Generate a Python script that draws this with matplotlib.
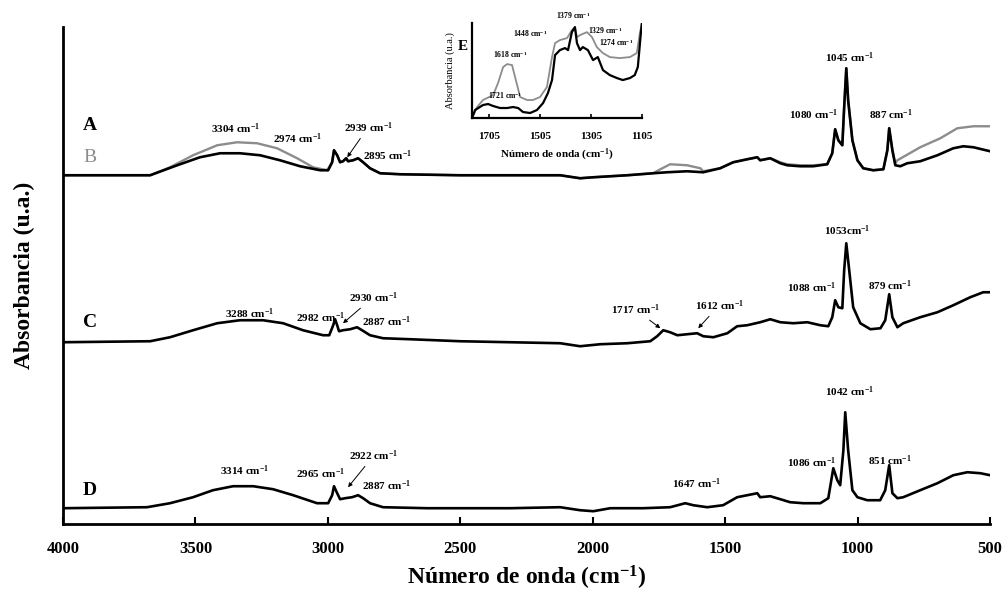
import numpy as np
from matplotlib import pyplot as plt

font_name = 'Liberation Serif'
font = {'fontname': font_name, 'fontweight': 'bold'}

plt.rcParams['font.family'] = [font_name, 'DejaVu Serif']
plt.rcParams['mathtext.default'] = 'regular'

# main spectra (wavenumber in cm-1, absorbance above own baseline, u.a.)
a_wn = [4000, 3671, 3569, 3483, 3407, 3332, 3256, 3181, 3105, 3029, 2999, 2984, 2977, 2965, 2954, 2943, 2931,
        2924, 2905, 2886, 2867, 2841, 2803, 2727, 2500, 2300, 2123, 2048, 1998, 1870, 1772, 1719, 1644, 1583,
        1519, 1470, 1417, 1379, 1368, 1330, 1292, 1266, 1217, 1168, 1115, 1096, 1085, 1073, 1058, 1051, 1043,
        1036, 1020, 1001, 979, 941, 903, 888, 881, 869, 858, 839, 813, 764, 699, 639, 601, 563, 500]
a_abs = [0.00, 0.00, 0.10, 0.18, 0.22, 0.22, 0.20, 0.15, 0.09, 0.05, 0.05, 0.13, 0.25, 0.20, 0.13, 0.14, 0.17,
         0.14, 0.15, 0.17, 0.13, 0.07, 0.02, 0.01, 0.00, 0.00, 0.00, -0.03, -0.02, 0.00, 0.02, 0.03, 0.04, 0.03,
         0.07, 0.13, 0.16, 0.18, 0.15, 0.17, 0.12, 0.10, 0.09, 0.09, 0.11, 0.22, 0.46, 0.35, 0.30, 0.68, 1.07,
         0.75, 0.35, 0.15, 0.07, 0.05, 0.06, 0.25, 0.47, 0.25, 0.10, 0.09, 0.12, 0.14, 0.20, 0.27, 0.29, 0.28, 0.24]

b_wn = [4000, 3671, 3596, 3509, 3418, 3343, 3267, 3192, 3116, 3056, 3003, 2984, 2977, 2965, 2954, 2943, 2931,
        2924, 2905, 2886, 2867, 2841, 2803, 2727, 2500, 2300, 2123, 2048, 1998, 1870, 1772, 1745, 1708, 1644,
        1594, 1583, 1519, 1470, 1417, 1379, 1368, 1330, 1292, 1266, 1217, 1168, 1115, 1096, 1085, 1073, 1058,
        1051, 1043, 1036, 1020, 1001, 979, 941, 903, 888, 881, 869, 858, 850, 764, 688, 624, 563, 500]
b_abs = [0.00, 0.00, 0.08, 0.20, 0.30, 0.33, 0.32, 0.27, 0.17, 0.08, 0.05, 0.13, 0.25, 0.20, 0.13, 0.14, 0.17,
         0.14, 0.15, 0.17, 0.13, 0.07, 0.02, 0.01, 0.00, 0.00, 0.00, -0.03, -0.02, 0.00, 0.02, 0.06, 0.11, 0.10,
         0.07, 0.04, 0.07, 0.13, 0.16, 0.18, 0.15, 0.17, 0.13, 0.11, 0.10, 0.10, 0.11, 0.22, 0.46, 0.35, 0.30,
         0.68, 1.07, 0.75, 0.35, 0.15, 0.07, 0.05, 0.06, 0.25, 0.47, 0.25, 0.12, 0.15, 0.28, 0.37, 0.47, 0.49, 0.49]

c_wn = [4000, 3671, 3596, 3509, 3418, 3332, 3245, 3169, 3094, 3018, 2995, 2980, 2973, 2965, 2958, 2943, 2916,
        2890, 2871, 2841, 2792, 2690, 2501, 2312, 2123, 2048, 1972, 1870, 1783, 1757, 1734, 1708, 1681, 1644,
        1606, 1583, 1545, 1492, 1455, 1417, 1368, 1330, 1292, 1243, 1190, 1141, 1111, 1096, 1085, 1073, 1058,
        1051, 1043, 1032, 1017, 990, 952, 914, 896, 881, 869, 850, 828, 764, 699, 639, 575, 526, 500]
c_abs = [0.00, 0.01, 0.05, 0.12, 0.19, 0.22, 0.22, 0.19, 0.12, 0.07, 0.07, 0.17, 0.23, 0.17, 0.11, 0.12, 0.13,
         0.15, 0.12, 0.07, 0.04, 0.03, 0.01, 0.00, -0.01, -0.04, -0.02, -0.01, 0.01, 0.06, 0.12, 0.10, 0.07, 0.08,
         0.09, 0.06, 0.05, 0.09, 0.16, 0.17, 0.20, 0.23, 0.20, 0.19, 0.20, 0.17, 0.16, 0.25, 0.42, 0.35, 0.34,
         0.72, 0.99, 0.72, 0.35, 0.19, 0.13, 0.14, 0.22, 0.48, 0.25, 0.15, 0.19, 0.25, 0.30, 0.37, 0.45, 0.50, 0.50]

d_wn = [4000, 3683, 3596, 3509, 3434, 3358, 3282, 3207, 3131, 3041, 2999, 2984, 2977, 2965, 2954, 2935, 2909,
        2886, 2867, 2841, 2792, 2625, 2312, 2123, 2048, 1998, 1934, 1810, 1708, 1651, 1621, 1568, 1508, 1455,
        1417, 1379, 1368, 1330, 1292, 1255, 1205, 1141, 1111, 1092, 1077, 1066, 1054, 1047, 1036, 1020, 1001,
        964, 915, 896, 881, 869, 850, 828, 764, 699, 639, 586, 537, 500]
d_abs = [0.00, 0.01, 0.05, 0.11, 0.18, 0.22, 0.22, 0.19, 0.13, 0.05, 0.05, 0.13, 0.22, 0.15, 0.09, 0.10, 0.11,
         0.13, 0.10, 0.05, 0.01, 0.00, 0.00, 0.01, -0.02, -0.03, 0.00, 0.00, 0.01, 0.05, 0.03, 0.01, 0.03, 0.11,
         0.13, 0.15, 0.11, 0.12, 0.09, 0.06, 0.05, 0.05, 0.10, 0.40, 0.28, 0.23, 0.58, 0.96, 0.58, 0.18, 0.11,
         0.08, 0.08, 0.18, 0.43, 0.15, 0.10, 0.11, 0.18, 0.25, 0.33, 0.36, 0.35, 0.33]

# inset E (1772 - 1105 cm-1)
e_wn_black = [1772, 1760, 1729, 1709, 1689, 1662, 1634, 1611, 1591, 1572, 1544, 1517, 1493, 1474, 1458, 1446,
              1427, 1407, 1395, 1380, 1368, 1360, 1348, 1337, 1317, 1297, 1278, 1258, 1231, 1203, 1180, 1152,
              1133, 1121, 1109, 1105]
e_abs_black = [0.00, 0.08, 0.13, 0.14, 0.12, 0.10, 0.10, 0.11, 0.10, 0.06, 0.05, 0.08, 0.15, 0.25, 0.38, 0.63,
               0.68, 0.70, 0.68, 0.86, 0.91, 0.75, 0.68, 0.71, 0.68, 0.58, 0.61, 0.48, 0.43, 0.40, 0.38, 0.40,
               0.43, 0.51, 0.85, 0.95]
e_wn_gray = [1772, 1752, 1729, 1689, 1670, 1650, 1634, 1615, 1603, 1583, 1556, 1533, 1505, 1478, 1458, 1446,
             1427, 1399, 1380, 1368, 1360, 1348, 1321, 1301, 1282, 1258, 1231, 1192, 1152, 1125, 1113, 1105]
e_abs_gray = [0.00, 0.11, 0.18, 0.23, 0.35, 0.51, 0.54, 0.53, 0.41, 0.21, 0.18, 0.18, 0.21, 0.31, 0.61, 0.75,
              0.78, 0.80, 0.88, 0.91, 0.81, 0.83, 0.86, 0.81, 0.71, 0.65, 0.61, 0.60, 0.61, 0.65, 0.85, 0.95]

x_ticks = [4000, 3500, 3000, 2500, 2000, 1500, 1000, 500]
inset_ticks = [1705, 1505, 1305, 1105]

offset_a = 3.49
offset_c = 1.82
offset_d = 0.16
gray = '#8c8c8c'


def cm(value):
    return f'{value} cm$^{{-1}}$'


def draw_main(ax):
    ax.plot(b_wn, np.array(b_abs) + offset_a, color=gray, lw=1.7)
    ax.plot(a_wn, np.array(a_abs) + offset_a, color='black', lw=1.9)
    ax.plot(c_wn, np.array(c_abs) + offset_c, color='black', lw=1.9)
    ax.plot(d_wn, np.array(d_abs) + offset_d, color='black', lw=1.9)

    ax.set_xlim(4000, 500)
    ax.set_ylim(0, 4.97)
    ax.set_xticks(x_ticks)
    ax.set_xticklabels([f'{t}' for t in x_ticks], fontsize=12, **font)
    ax.set_yticks([])
    ax.tick_params(axis='x', direction='in', length=5, width=1.5, pad=12)
    for side in ['top', 'right']:
        ax.spines[side].set_visible(False)
    for side in ['left', 'bottom']:
        ax.spines[side].set_linewidth(2)
    ax.set_xlabel('Número de onda (cm$^{-1}$)', fontsize=17, labelpad=5, **font)
    ax.set_ylabel('Absorbancia (u.a.)', fontsize=17, labelpad=20, **font)

    ax.text(3898, 3.99, 'A', fontsize=14, ha='center', va='center', **font)
    ax.text(3898, 3.67, 'B', fontsize=14, ha='center', va='center', color=gray, fontname=font_name)
    ax.text(3898, 2.02, 'C', fontsize=14, ha='center', va='center', **font)
    ax.text(3898, 0.34, 'D', fontsize=14, ha='center', va='center', **font)

    labels = [
        ('3304', 3347, 3.96), ('2974', 3113, 3.86), ('2895', 2776, 3.69), ('1080', 1168, 4.10),
        ('1045', 1032, 4.67), ('887', 873, 4.10),
        ('3288', 3294, 2.11), ('2982', 3026, 2.07), ('2887', 2780, 2.03), ('1088', 1175, 2.37),
        ('879', 877, 2.39),
        ('3314', 3316, 0.54), ('2965', 3026, 0.51), ('2887', 2780, 0.39), ('1647', 1609, 0.41),
        ('1086', 1175, 0.62), ('1042', 1032, 1.33), ('851', 877, 0.64),
    ]
    for value, x, y in labels:
        ax.text(x, y, cm(value), fontsize=8, ha='center', va='center', **font)
    ax.text(1039, 2.94, '1053cm$^{-1}$', fontsize=8, ha='center', va='center', **font)

    arrows = [
        ('2939', 2848, 3.97, 2927, 3.67), ('2930', 2829, 2.27, 2943, 2.01),
        ('1717', 1840, 2.15, 1745, 1.96), ('1612', 1523, 2.19, 1602, 1.96),
        ('2922', 2826, 0.69, 2924, 0.37),
    ]
    for value, x, y, tx, ty in arrows:
        ax.annotate(cm(value), xy=(tx, ty), xytext=(x, y), fontsize=8, ha='center', va='center',
                    arrowprops=dict(arrowstyle='-|>', lw=0.7, color='black', mutation_scale=6,
                                    shrinkA=1, shrinkB=0), **font)


def draw_inset(fig):
    ax = fig.add_axes([0.4697, 0.801, 0.169, 0.160])
    ax.plot(e_wn_gray, e_abs_gray, color=gray, lw=1.3)
    ax.plot(e_wn_black, e_abs_black, color='black', lw=1.6)
    ax.set_xlim(1772, 1105)
    ax.set_ylim(0, 0.95)
    ax.set_xticks(inset_ticks)
    ax.set_xticklabels([f'{t}' for t in inset_ticks], fontsize=8, **font)
    ax.set_yticks([])
    ax.tick_params(axis='x', direction='in', length=3, width=1.2, pad=10)
    for side in ['top', 'right']:
        ax.spines[side].set_visible(False)
    for side in ['left', 'bottom']:
        ax.spines[side].set_linewidth(1.6)
    ax.patch.set_alpha(0)
    ax.set_xlabel('Número de onda (cm$^{-1}$)', fontsize=8, labelpad=4, **font)
    ax.set_ylabel('Absorbancia (u.a.)', fontsize=7.5, labelpad=12, fontname=font_name)

    small = [('1379', 1376, 1.03), ('1448', 1544, 0.85), ('1618', 1623, 0.64), ('1721', 1642, 0.23),
             ('1329', 1250, 0.88), ('1274', 1207, 0.76)]
    for value, x, y in small:
        ax.text(x, y, cm(value), fontsize=5.5, ha='center', va='center', clip_on=False, **font)
    fig.text(463 / 1005, 1 - 47 / 593, 'E', fontsize=11, ha='center', va='center', **font)


fig = plt.figure(figsize=(10.05, 5.93), dpi=100)
ax = fig.add_axes([0.0627, 0.116, 0.9225, 0.838])
draw_main(ax)
draw_inset(fig)
fig.savefig('out.png', dpi=100)
plt.close()
